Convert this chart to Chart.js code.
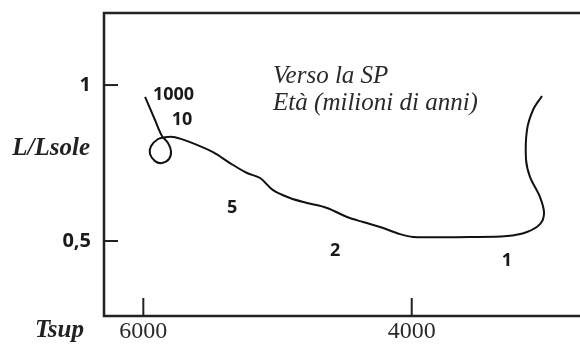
<!DOCTYPE html>
<html>
<head>
<meta charset="utf-8">
<script src="https://cdn.jsdelivr.net/npm/chart.js@4/dist/chart.umd.min.js"></script>
<style>
html,body{margin:0;padding:0;background:#fff;}
#wrap{width:580px;height:344px;position:relative;}
</style>
</head>
<body>
<div id="wrap"><canvas id="c" width="580" height="344"></canvas></div>
<script>
// Evolutionary track (surface temperature K, L/Lsun)
const trackTemp = [3029,3096,3141,3148,3118,3044,3014,3044,3141,3290,3565,3990,4087,4236,4363,4482,4631,4780,4907,5033,5130,5227,5354,5481,5652,5764,5838,5890,5943,5950,5913,5861,5808,5794,5816,5861,5913,5987];
const trackLum  = [0.965,0.920,0.856,0.760,0.705,0.641,0.590,0.554,0.529,0.516,0.513,0.513,0.522,0.545,0.561,0.577,0.606,0.622,0.638,0.663,0.702,0.718,0.750,0.785,0.817,0.833,0.833,0.827,0.804,0.779,0.756,0.750,0.763,0.788,0.814,0.837,0.888,0.962];
// Age labels (millions of years) and where they sit in data units
const ageLabels = ['1000','10','5','2','1'];
const ageTemp = [5775,5712,5339,4571,3290];
const ageLum  = [0.970,0.888,0.606,0.468,0.436];
// Tick values
const xTicks = [6000,4000];
const yTicks = [0.5,1];
const xTickLabels = ['6000','4000'];
const yTickLabels = ['0,5','1'];
// Texts
const noteLines = ['Verso la SP','Età (milioni di anni)'];
const noteTemp = 5033;
const noteLum = [1.006,0.920];
const yTitle = 'L/Lsole';
const xTitle = 'Tsup';

const points = trackTemp.map((t,i)=>({x:t,y:trackLum[i]}));

const framePlugin = {
  id:'frame',
  afterDatasetsDraw(chart){
    const {ctx, chartArea:a, scales:{x,y}} = chart;
    ctx.save();
    ctx.strokeStyle = '#222';
    ctx.lineWidth = 2.5;
    ctx.beginPath();
    ctx.moveTo(a.right+5, a.top);
    ctx.lineTo(a.left, a.top);
    ctx.lineTo(a.left, a.bottom);
    ctx.lineTo(a.right+5, a.bottom);
    ctx.stroke();
    // inward ticks
    ctx.lineWidth = 2;
    yTicks.forEach(v=>{
      const py = y.getPixelForValue(v);
      ctx.beginPath(); ctx.moveTo(a.left, py); ctx.lineTo(a.left+14, py); ctx.stroke();
    });
    xTicks.forEach(v=>{
      const px = x.getPixelForValue(v);
      ctx.beginPath(); ctx.moveTo(px, a.bottom); ctx.lineTo(px, a.bottom-18); ctx.stroke();
    });
    // age labels
    ctx.fillStyle = '#1a1a1a';
    ctx.font = 'bold 18px "Open Sans", "Liberation Sans", sans-serif';
    ctx.textAlign = 'center';
    ctx.textBaseline = 'middle';
    ageLabels.forEach((s,i)=>{
      ctx.fillText(s, x.getPixelForValue(ageTemp[i]), y.getPixelForValue(ageLum[i]));
    });
    // note
    ctx.fillStyle = '#2a2a2a';
    ctx.font = 'italic 25px "Liberation Serif", "DejaVu Serif", serif';
    ctx.textAlign = 'left';
    ctx.textBaseline = 'alphabetic';
    noteLines.forEach((s,i)=>{
      ctx.fillText(s, x.getPixelForValue(noteTemp), y.getPixelForValue(noteLum[i]));
    });
    // axis titles
    ctx.fillStyle = '#222';
    ctx.font = 'bold italic 25px "Liberation Serif", serif';
    ctx.textAlign = 'right';
    ctx.textBaseline = 'middle';
    ctx.fillText(yTitle, 90, 149);
    ctx.fillText(xTitle, 84, 331);
    ctx.restore();
  }
};

new Chart(document.getElementById('c'), {
  type:'scatter',
  data:{datasets:[{
    data: points,
    showLine:true,
    borderColor:'#111',
    borderWidth:2,
    pointRadius:0,
    tension:0.35,
    fill:false
  }]},
  options:{
    responsive:false,
    animation:false,
    layout:{padding:{top:13,right:0,left:0,bottom:0}},
    plugins:{legend:{display:false},tooltip:{enabled:false}},
    scales:{
      x:{
        type:'linear', reverse:true, min:2746, max:6293,
        afterBuildTicks(s){ s.ticks = xTicks.map(v=>({value:v})); },
        afterFit(s){ s.height = 28; s.paddingLeft = 0; s.paddingRight = 0; },
        grid:{display:false, drawTicks:false},
        border:{display:false},
        ticks:{
          padding:1, maxRotation:0, autoSkip:false, color:'#2a2a2a',
          font:{family:'"Liberation Serif", serif', size:24},
          callback:(v)=>xTickLabels[xTicks.indexOf(v)]
        }
      },
      y:{
        type:'linear', min:0.2596, max:1.231,
        afterBuildTicks(s){ s.ticks = yTicks.map(v=>({value:v})); },
        afterFit(s){ s.width = 104; s.paddingTop = 0; s.paddingBottom = 0; },
        grid:{display:false, drawTicks:false},
        border:{display:false},
        ticks:{
          padding:13, color:'#1a1a1a',
          font:{family:'"Open Sans", "Liberation Sans", sans-serif', size:20, weight:'bold'},
          callback:(v)=>yTickLabels[yTicks.indexOf(v)]
        }
      }
    }
  },
  plugins:[framePlugin]
});
</script>
</body>
</html>
